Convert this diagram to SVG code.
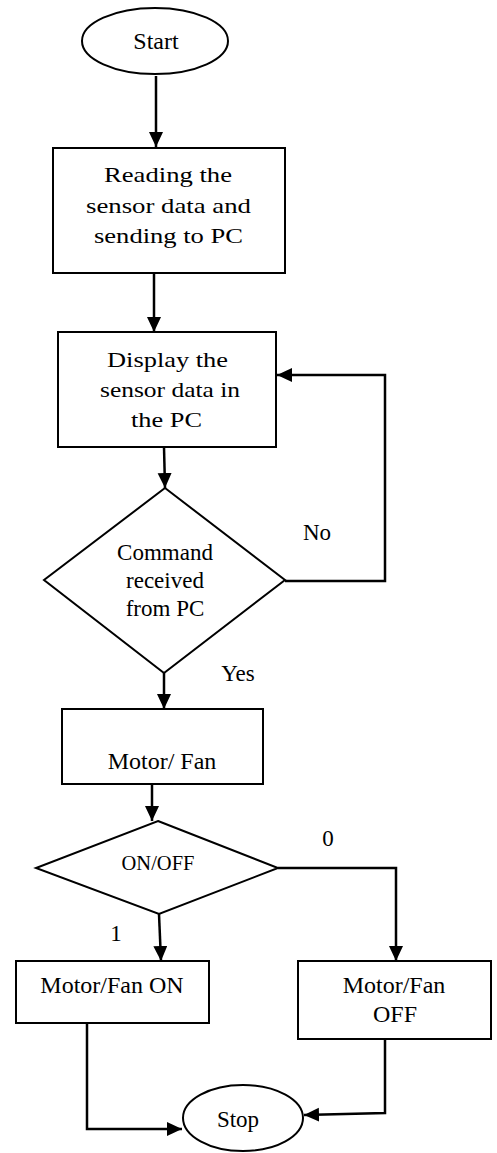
<svg xmlns="http://www.w3.org/2000/svg" width="497" height="1153" viewBox="0 0 497 1153" font-family="'Liberation Serif', 'Times New Roman', serif">
<defs>
<style>
.shape{fill:#fff;stroke:#000;stroke-width:2}
.conn{fill:none;stroke:#000;stroke-width:2.5}
.t{font-family:'Liberation Serif','Times New Roman',serif;font-size:23px;text-anchor:middle;fill:#000}
.s{font-family:'Liberation Serif','Times New Roman',serif;font-size:22px;fill:#000}
</style>
<marker id="ah" markerUnits="userSpaceOnUse" markerWidth="16" markerHeight="15" refX="15" refY="7" orient="auto">
<path d="M0,0 L15,7 L0,14 z" fill="#000"/>
</marker>
</defs>
<rect width="497" height="1153" fill="#fff"/>
<g id="connectors">
<line class="conn" x1="156" y1="76" x2="156" y2="147" marker-end="url(#ah)"/>
<line class="conn" x1="154" y1="274" x2="154" y2="332" marker-end="url(#ah)"/>
<polyline class="conn" points="285,581 385,581 385,375 277,375" marker-end="url(#ah)"/>
<line class="conn" x1="164" y1="447" x2="165" y2="488" marker-end="url(#ah)"/>
<line class="conn" x1="164" y1="673" x2="164" y2="709" marker-end="url(#ah)"/>
<line class="conn" x1="152" y1="785" x2="152" y2="821" marker-end="url(#ah)"/>
<line class="conn" x1="159" y1="914" x2="161" y2="961" marker-end="url(#ah)"/>
<polyline class="conn" points="278,868 396,868 396,961" marker-end="url(#ah)"/>
<polyline class="conn" points="87,1024 87,1129 182,1129" marker-end="url(#ah)"/>
<polyline class="conn" points="385,1039 385,1113 304,1115" marker-end="url(#ah)"/>
<text class="t" x="317" y="540">No</text>
<text class="t" x="238" y="681">Yes</text>
<text class="t" x="328" y="846">0</text>
<text class="t" x="116" y="941">1</text>
</g>
<g id="start">
<ellipse class="shape" cx="155" cy="41" rx="73" ry="33"/>
<text class="t" x="156" y="49" style="font-size:24px">Start</text>
</g>
<g id="read">
<rect class="shape" x="53" y="148" width="232" height="125"/>
<text class="s" x="104" y="182" textLength="128" lengthAdjust="spacingAndGlyphs">Reading the</text>
<text class="s" x="86" y="213" textLength="165" lengthAdjust="spacingAndGlyphs">sensor data and</text>
<text class="s" x="94" y="243" textLength="149" lengthAdjust="spacingAndGlyphs">sending to PC</text>
</g>
<g id="display">
<rect class="shape" x="58" y="332" width="218" height="115"/>
<text class="s" x="107" y="367" textLength="121" lengthAdjust="spacingAndGlyphs">Display the</text>
<text class="s" x="100" y="397" textLength="140" lengthAdjust="spacingAndGlyphs">sensor data in</text>
<text class="s" x="131" y="427" textLength="71" lengthAdjust="spacingAndGlyphs">the PC</text>
</g>
<g id="command">
<polygon class="shape" points="165,488 285,580 164,673 44,580"/>
<text class="t" x="165" y="560">Command</text>
<text class="t" x="165" y="588">received</text>
<text class="t" x="165" y="616">from PC</text>
</g>
<g id="motorfan">
<rect class="shape" x="62" y="709" width="201" height="75"/>
<text class="t" x="162" y="769" style="font-size:24px">Motor/ Fan</text>
</g>
<g id="onoff">
<polygon class="shape" points="158,821 278,868 159,914 36,868"/>
<text class="t" x="158" y="870" style="font-size:20.5px">ON/OFF</text>
</g>
<g id="fanon">
<rect class="shape" x="16" y="961" width="193" height="62"/>
<text class="t" x="112" y="993" style="font-size:24px">Motor/Fan ON</text>
</g>
<g id="fanoff">
<rect class="shape" x="298" y="961" width="193" height="78"/>
<text class="t" x="394" y="993" style="font-size:24px">Motor/Fan</text>
<text class="t" x="395" y="1022" style="font-size:24px">OFF</text>
</g>
<g id="stop">
<ellipse class="shape" cx="243" cy="1118" rx="60" ry="33"/>
<text class="t" x="238" y="1127">Stop</text>
</g>
</svg>
